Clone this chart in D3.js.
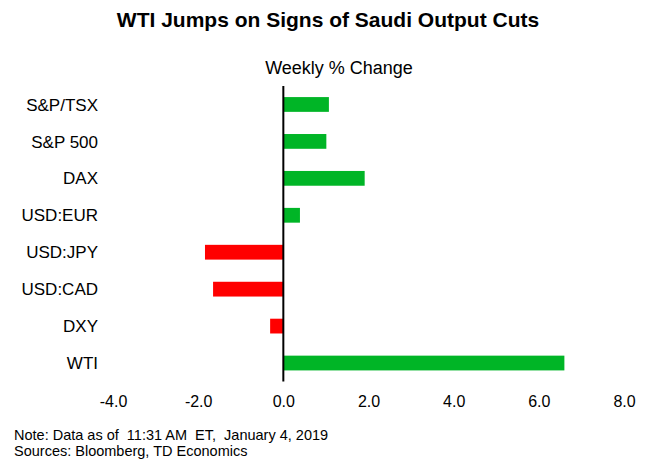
<!DOCTYPE html>
<html>
<head>
<meta charset="utf-8">
<script src="https://cdn.jsdelivr.net/npm/d3@7"></script>
<style>
  body { margin: 0; background: #fff; }
  text { font-family: "Liberation Sans", Arial, sans-serif; fill: #000; }
</style>
</head>
<body>
<div id="chart"></div>
<script>
var categories = ["S&P/TSX", "S&P 500", "DAX", "USD:EUR", "USD:JPY", "USD:CAD", "DXY", "WTI"];
var values = [1.07, 1.01, 1.91, 0.39, -1.84, -1.65, -0.31, 6.6];
var xTicks = [-4, -2, 0, 2, 4, 6, 8];

var width = 649, height = 460;

var svg = d3.select("#chart")
    .append("svg")
    .attr("width", width)
    .attr("height", height);

var x = d3.scaleLinear()
    .domain([-4, 8])
    .range([113, 624]);

var y = d3.scaleBand()
    .domain(categories)
    .range([86, 381.5])
    .paddingInner(0.6)
    .paddingOuter(0.3);

// title
svg.append("text")
    .attr("x", 328)
    .attr("y", 27)
    .attr("text-anchor", "middle")
    .style("font-size", "21px")
    .style("font-weight", "bold")
    .text("WTI Jumps on Signs of Saudi Output Cuts");

svg.append("text")
    .attr("x", 339)
    .attr("y", 74)
    .attr("text-anchor", "middle")
    .style("font-size", "18px")
    .text("Weekly % Change");

// bars
svg.append("g")
    .selectAll("rect")
    .data(values)
    .enter()
    .append("rect")
    .attr("x", function (d) { return x(Math.min(0, d)); })
    .attr("y", function (d, i) { return y(categories[i]); })
    .attr("width", function (d) { return Math.abs(x(d) - x(0)); })
    .attr("height", y.bandwidth())
    .style("fill", function (d) { return d >= 0 ? "#00b526" : "#ff0000"; });

// zero line
svg.append("line")
    .attr("x1", x(0))
    .attr("x2", x(0))
    .attr("y1", 86)
    .attr("y2", 381.5)
    .attr("stroke", "#000")
    .attr("stroke-width", 2);

// category labels
svg.append("g")
    .selectAll("text")
    .data(categories)
    .enter()
    .append("text")
    .attr("x", 98)
    .attr("y", function (d) { return y(d) + y.bandwidth() / 2; })
    .attr("dy", "0.36em")
    .attr("text-anchor", "end")
    .style("font-size", "17px")
    .text(function (d) { return d; });

// x axis labels
var xAxis = svg.append("g")
    .attr("transform", "translate(0,396)")
    .call(d3.axisBottom(x).tickValues(xTicks).tickSize(0).tickPadding(0)
        .tickFormat(function (d) { return d.toFixed(1); }));
xAxis.select(".domain").remove();
xAxis.selectAll("text")
    .style("font-family", "Liberation Sans, Arial, sans-serif")
    .style("font-size", "16px")
    .style("fill", "#000");

// footer
svg.append("text")
    .attr("x", 14)
    .attr("y", 440)
    .style("font-size", "14.5px")
    .style("white-space", "pre")
    .text("Note: Data as of  11:31 AM  ET,  January 4, 2019");

svg.append("text")
    .attr("x", 14)
    .attr("y", 456)
    .style("font-size", "14.5px")
    .text("Sources: Bloomberg, TD Economics");
</script>
</body>
</html>
